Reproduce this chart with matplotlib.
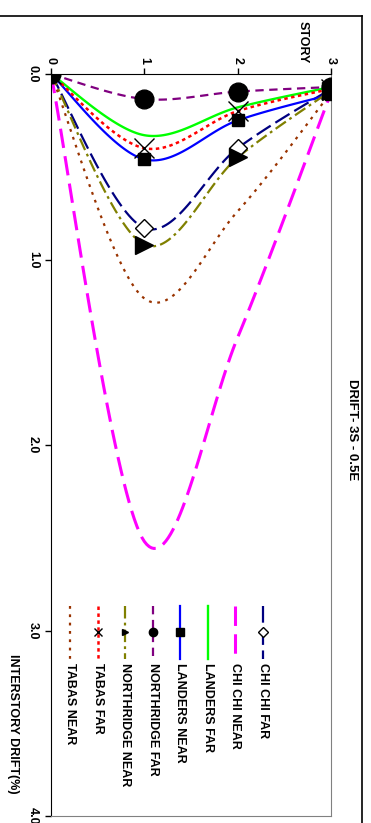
import numpy as np
import matplotlib
matplotlib.use("Agg")
import matplotlib.pyplot as plt
from matplotlib.lines import Line2D

plt.rcParams['font.family'] = ['Liberation Sans', 'DejaVu Sans']
plt.rcParams['font.weight'] = 'bold'
plt.rcParams['font.size'] = 9
plt.rcParams['lines.scale_dashes'] = False

# datos: deriva de entrepiso (%) por piso
pisos = [0, 1, 2, 3]
series = ["CHI CHI FAR", "CHI CHI NEAR", "LANDERS FAR", "LANDERS NEAR",
          "NORTHRIDGE FAR", "NORTHRIDGE NEAR", "TABAS FAR", "TABAS NEAR"]
chichi_far = [0.0, 0.83, 0.40, 0.08]
chichi_near = [0.0, 2.52, 1.42, 0.10]
landers_far = [0.0, 0.33, 0.18, 0.07]
landers_near = [0.0, 0.46, 0.25, 0.11]
northridge_far = [0.0, 0.135, 0.095, 0.07]
northridge_near = [0.0, 0.92, 0.45, 0.09]
tabas_far = [0.0, 0.40, 0.20, 0.08]
tabas_near = [0.0, 1.21, 0.74, 0.10]
ticks_deriva = [0.0, 1.0, 2.0, 3.0, 4.0]
etiquetas_deriva = ["0.0", "1.0", "2.0", "3.0", "4.0"]

valores = [chichi_far, chichi_near, landers_far, landers_near,
           northridge_far, northridge_near, tabas_far, tabas_near]

# estilos (color, ancho, guiones, marcador, tam, relleno)
estilos = [
    ("#000080", 1.6, (0, (12, 4)), "D", 9, "white"),
    ("#FF00FF", 2.2, (0, (14, 6)), None, 0, None),
    ("#00FF00", 1.7, "-", None, 0, None),
    ("#0000FF", 1.6, "-", "s", 8, "black"),
    ("#800080", 1.6, (0, (6, 4)), "o", 13.5, "black"),
    ("#808000", 1.6, (0, (9, 3, 2, 3)), ">", 12.5, "black"),
    ("#FF0000", 1.8, (0, (2.5, 2.5)), "x", 14, "black"),
    ("#993300", 1.6, (0, (2, 4)), None, 0, None),
]
leg_ms = {"D": 5, "s": 6, "o": 6, ">": 5, "x": 6}


def suavizar(xs, ys, n=40):
    # curva suavizada tipo Excel (bezier / catmull-rom)
    p = np.column_stack([xs, ys]).astype(float)
    out = []
    t = np.linspace(0, 1, n)[:, None]
    for i in range(len(p) - 1):
        p0 = p[i - 1] if i > 0 else p[i]
        p1, p2 = p[i], p[i + 1]
        p3 = p[i + 2] if i + 2 < len(p) else p[i + 1]
        c1 = p1 + (p2 - p0) / 6
        c2 = p2 - (p3 - p1) / 6
        seg = ((1 - t) ** 3) * p1 + 3 * ((1 - t) ** 2) * t * c1 + 3 * (1 - t) * t ** 2 * c2 + t ** 3 * p2
        out.append(seg if i == 0 else seg[1:])
    out = np.vstack(out)
    return out[:, 0], out[:, 1]


fig = plt.figure(figsize=(3.71, 8.23), dpi=100)
ax = fig.add_axes([51 / 371, 1 - 816 / 823, 280 / 371, 742 / 823])

for nombre, vals, (col, lw, ls, mk, ms, fc) in zip(series, valores, estilos):
    sx, sy = suavizar(pisos, vals)
    ax.plot(sx, sy, color=col, lw=lw, linestyle=ls, zorder=2)
    if mk:
        ax.plot(pisos, vals, linestyle="none", marker=mk, markersize=ms,
                markerfacecolor=fc, markeredgecolor="black",
                markeredgewidth=1.0, zorder=3)

ax.set_xlim(0, 3)
ax.set_ylim(4, 0)
ax.xaxis.tick_top()
ax.set_xticks(pisos)
ax.set_xticklabels([str(p) for p in pisos])
ax.set_yticks(ticks_deriva)
ax.set_yticklabels(etiquetas_deriva)
ax.tick_params(axis="x", direction="out", length=4, width=1, pad=3, labelrotation=-90)
ax.tick_params(axis="y", direction="out", length=4, width=1, pad=9, labelrotation=-90)
for lab in ax.get_yticklabels():
    lab.set_va("center")
    lab.set_ha("center")
ax.spines["left"].set_color("black")
ax.spines["top"].set_color("black")
ax.spines["right"].set_color("#808080")
ax.spines["bottom"].set_color("#808080")

# leyenda hecha a mano (rotada)
for i, (nombre, (col, lw, ls, mk, ms, fc)) in enumerate(zip(series, estilos)):
    x = 0.757 - i * 0.0984
    ax.add_line(Line2D([x, x], [0.283, 0.2116], transform=ax.transAxes,
                       color=col, lw=lw, linestyle=ls, clip_on=False))
    if mk:
        ax.add_line(Line2D([x], [0.248], transform=ax.transAxes, linestyle="none",
                           marker=mk, markersize=leg_ms[mk], markerfacecolor=fc,
                           markeredgecolor="black", markeredgewidth=1.0, clip_on=False))
    ax.text(x, 0.206, nombre, transform=ax.transAxes, rotation=-90,
            ha="center", va="top", fontsize=9, fontweight="bold")

fig.text(303 / 371, 1 - 42 / 823, "STORY", rotation=-90, ha="center", va="center",
         fontsize=9, fontweight="bold")
fig.text(13 / 371, 1 - 724 / 823, "INTERSTORY DRIFT(%)", rotation=-90, ha="center",
         va="center", fontsize=9, fontweight="bold")
fig.text(352 / 371, 1 - 430 / 823, "DRIFT- 3S - 0.5E", rotation=-90, ha="center",
         va="center", fontsize=9.5, fontweight="bold")

# marco del grafico
fig.add_artist(Line2D([0, 362 / 371], [1 - 16 / 823, 1 - 16 / 823],
                      transform=fig.transFigure, color="black", lw=1.2))
fig.add_artist(Line2D([362 / 371, 362 / 371], [0, 1 - 16 / 823],
                      transform=fig.transFigure, color="black", lw=1.2))

fig.savefig("out.png", dpi=100)
